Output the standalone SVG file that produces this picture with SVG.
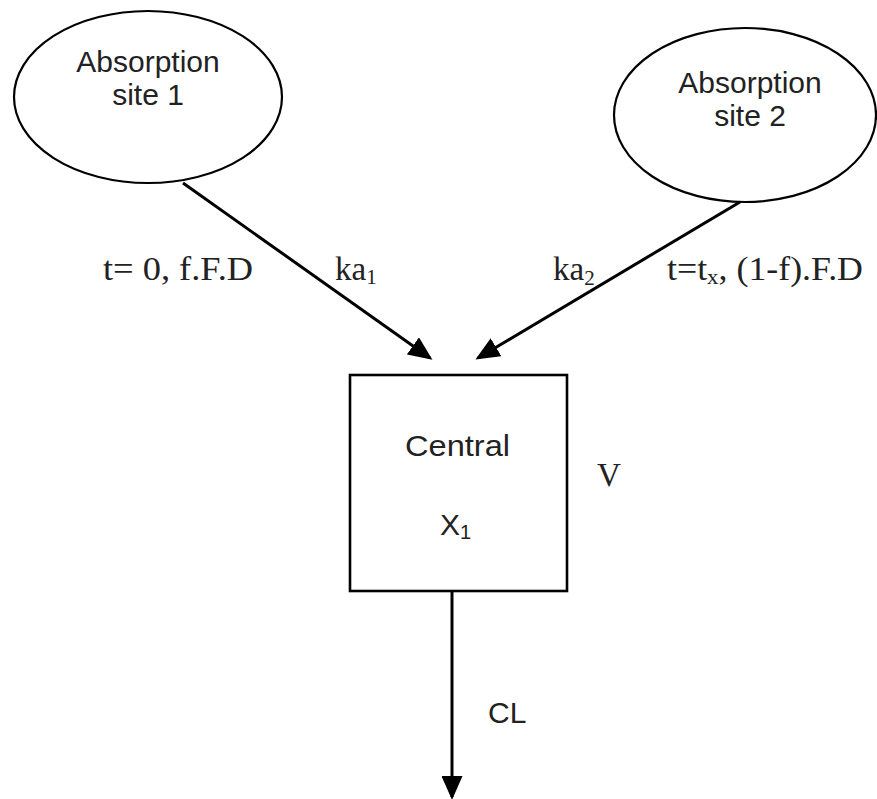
<svg xmlns="http://www.w3.org/2000/svg" width="877" height="799" viewBox="0 0 877 799">
<style>
.shape{fill:#fff;stroke:#000;stroke-width:2.2}
.box{fill:#fff;stroke:#000;stroke-width:2.6}
.sans{font-family:"Liberation Sans",Arial,sans-serif;font-size:30px;fill:#222}
.serif{font-family:"Liberation Serif","Times New Roman",serif;font-size:33px;fill:#222}
.conn{stroke:#000;stroke-width:3;fill:none}
</style>
<defs>
<marker id="ah" markerWidth="8" markerHeight="7" refX="7" refY="3.5" orient="auto" markerUnits="strokeWidth">
<path d="M0,0 L8,3.5 L0,7 z" fill="#000"/>
</marker>
</defs>
<rect width="877" height="799" fill="#fff"/>
<g id="site1">
<ellipse class="shape" cx="148" cy="97" rx="134" ry="86"/>
<text class="sans" x="148" y="72" text-anchor="middle">Absorption</text>
<text class="sans" x="148" y="105" text-anchor="middle">site 1</text>
</g>
<g id="site2">
<ellipse class="shape" cx="745" cy="115" rx="131" ry="87"/>
<text class="sans" x="750" y="93" text-anchor="middle">Absorption</text>
<text class="sans" x="750" y="126" text-anchor="middle">site 2</text>
</g>
<g id="central">
<rect class="box" x="350" y="375" width="217" height="216"/>
<text class="sans" x="405" y="456" textLength="105" lengthAdjust="spacingAndGlyphs">Central</text>
<text class="sans" x="440" y="535">X<tspan font-size="20" dy="4">1</tspan></text>
</g>
<g id="connectors">
<line class="conn" x1="183" y1="183" x2="430" y2="358" marker-end="url(#ah)"/>
<line class="conn" x1="740" y1="202" x2="478" y2="358" marker-end="url(#ah)"/>
<line class="conn" x1="452" y1="591" x2="452" y2="797" marker-end="url(#ah)"/>
</g>
<g id="labels">
<text class="serif" x="103" y="280" textLength="150" lengthAdjust="spacingAndGlyphs">t= 0, f.F.D</text>
<text class="serif" x="335" y="280">ka<tspan font-size="21" dy="4">1</tspan></text>
<text class="serif" x="553" y="280">ka<tspan font-size="21" dy="5">2</tspan></text>
<text class="serif" x="667" y="280" textLength="196" lengthAdjust="spacingAndGlyphs">t=t<tspan font-size="21" dy="4">x</tspan><tspan dy="-4">, (1-f).F.D</tspan></text>
<text class="serif" x="597" y="486">V</text>
<text class="sans" x="488" y="723">CL</text>
</g>
</svg>
